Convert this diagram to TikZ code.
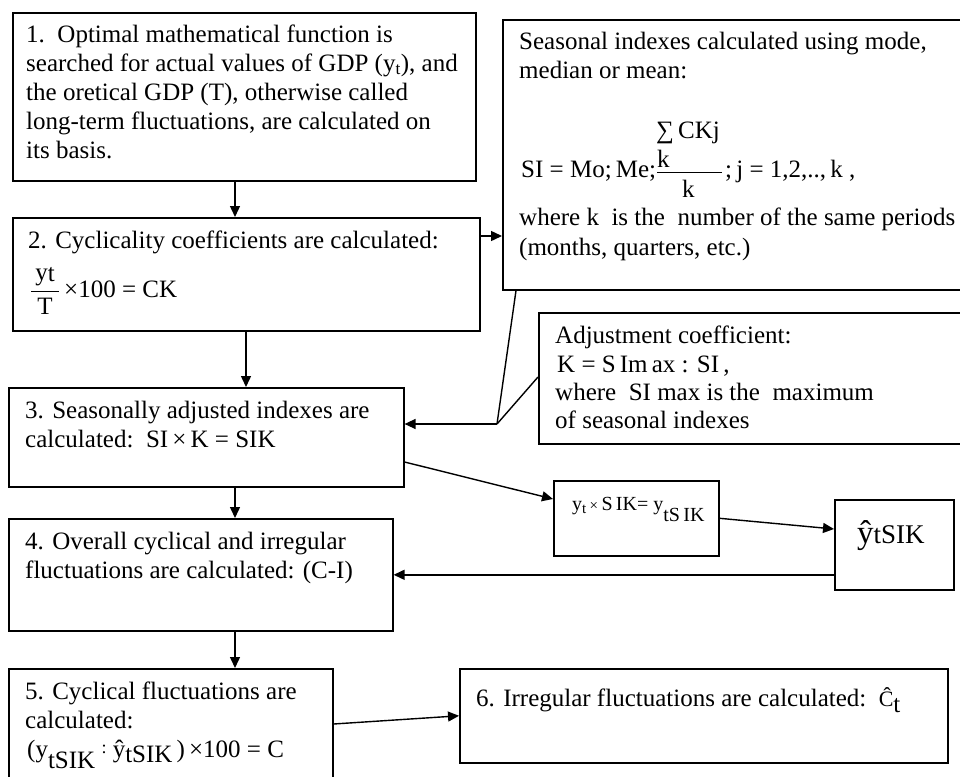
\documentclass[tikz,border=0pt]{standalone}
\usepackage{fontspec}
\setmainfont{Liberation Serif}
\usetikzlibrary{arrows.meta}
\newcommand\lowtxt[2]{\raisebox{-#1}{#2}}
\begin{document}
\begin{tikzpicture}[x=1pt,y=-1pt,
  every node/.style={font=\fontsize{25}{30}\selectfont},
  box/.style={draw, line width=1.6pt, anchor=north west, inner sep=0pt},
  txt/.style={anchor=base west, inner sep=0pt},
  conn/.style={line width=1.4pt},
  arr/.style={line width=1.4pt, -{Triangle[length=11pt,width=10pt]}}]
\fill[white] (0,0) rectangle (960,776);
\useasboundingbox (0,0) rectangle (960,776);
\clip (0,0) rectangle (960,776);

% boxes
\node[box, minimum width=463pt, minimum height=168pt] (b1) at (12,12) {};
\node[box, minimum width=467pt, minimum height=113pt] (b2) at (12,217) {};
\node[box, minimum width=395pt, minimum height=99pt] (b3) at (8,387) {};
\node[box, minimum width=384pt, minimum height=112pt] (b4) at (8,518) {};
\node[box, minimum width=324pt, minimum height=130pt] (b5) at (8,668) {};
\node[box, minimum width=488pt, minimum height=94pt] (b6) at (459,668) {};
\node[box, minimum width=165pt, minimum height=75pt] (b7) at (553,480) {};
\node[box, minimum width=119pt, minimum height=90pt] (b8) at (834,499) {};
\node[box, minimum width=470pt, minimum height=270pt] (bSI) at (502,19) {};
\node[box, minimum width=430pt, minimum height=131pt] (bAdj) at (538,312) {};

% box 1 text
\node[txt] (t1a) at (26,42) {1.\ \ Optimal mathematical function is};
\node[txt] (t1b) at (26,71) {searched for actual values of GDP (y\textsubscript{t}), and};
\node[txt] (t1c) at (26,100) {the oretical GDP (T), otherwise called};
\node[txt] (t1d) at (26,129) {long-term fluctuations, are calculated on};
\node[txt] (t1e) at (26,158) {its basis.};

% box 2 text
\node[txt] (t2a) at (28,248) {2. Cyclicality coefficients are calculated:};
\node[txt] (t2b) at (30,297) {$\displaystyle\frac{\hbox{\hspace{4pt}y\lowtxt{1.5pt}{t}\hspace{4pt}}}{\hbox{T}}$\,×100 = CK};

% box 3 text
\node[txt] (t3a) at (25,418) {3. Seasonally adjusted indexes are};
\node[txt] (t3b) at (25,447) {calculated:\ \ SI\,×\,K = SIK};

% box 4 text
\node[txt] (t4a) at (25,549) {4. Overall cyclical and irregular};
\node[txt] (t4b) at (25,578) {fluctuations are calculated: (C-I)};

% box 5 text
\node[txt] (t5a) at (25,699) {5. Cyclical fluctuations are};
\node[txt] (t5b) at (25,728) {calculated:};
\node[txt] (t5c) at (27,757) {(y\lowtxt{11pt}{tSIK}\ \raisebox{4pt}{\fontsize{18}{18}\selectfont:}\ ŷ\lowtxt{5pt}{tSIK}\,)\,×100 = C};

% box 6 text
\node[txt] (t6a) at (476,706) {6. Irregular fluctuations are calculated:\ \ {\fontsize{22}{22}\selectfont Ĉ}\lowtxt{6pt}{t}};

% box 7 text
\node[txt] (t7a) at (572,510) {\fontsize{20}{24}\selectfont y\lowtxt{3pt}{\fontsize{15}{15}\selectfont t}\,{\fontsize{15}{15}\selectfont×}\,S\,IK= y\lowtxt{11pt}{tS\,IK}};

% box 8 text
\node[txt] (t8a) at (857,543) {{\fontsize{33}{33}\selectfont ŷ}{\fontsize{27}{27}\selectfont tSIK}};

% seasonal index box text
\node[txt] (s1) at (519,50) {Seasonal indexes calculated using mode,};
\node[txt] (s2) at (519,78) {median or mean:};
\node[txt] (s3) at (521,177) {SI = Mo;\,Me;};
\node[txt] (s4) at (656,138) {∑\,CKj};
\node[txt] (s5) at (657,167) {k};
\node[txt] (s6) at (682,197) {k};
\draw[line width=1pt] (s5.base west) ++(0,5) -- ++(65,0);
\node[txt] (s7) at (725,177) {;\,j = 1,2,..,\,k ,};
\node[txt] (s8) at (519,225) {where k\ \ is the\ \ number of the same periods};
\node[txt] (s9) at (519,255) {(months, quarters, etc.)};

% adjustment box text
\node[txt] (a1) at (555,343) {Adjustment coefficient:};
\node[txt] (a2) at (557,372) {K = S\,Im\,ax : SI\,,};
\node[txt] (a3) at (555,400) {where\ \ SI max is the\ \ maximum};
\node[txt] (a4) at (555,428) {of seasonal indexes};

% helper coordinates
\coordinate (xa) at (235,0);
\coordinate (xb) at (246,0);
\coordinate (J) at (497,424);

% connectors
\draw[arr] (b1.south -| xa) -- (b2.north -| xa);
\draw[arr] (b2.south -| xb) -- (b3.north -| xb);
\draw[arr] (b3.south -| xa) -- (b4.north -| xa);
\draw[arr] (b4.south -| xa) -- (b5.north -| xa);
\draw[arr] (b2.east |- 0,236) -- (bSI.west |- 0,236);
\draw[conn] (bSI.south -| 516,0) -- (J);
\draw[conn] (bAdj.west |- 0,377) -- (J);
\draw[arr] (J) -- (b3.east |- J);
\draw[arr] (b3.east |- 0,462) -- (b7.west |- 0,499);
\draw[arr] (b7.east) -- (b8.west |- 0,529);
\draw[arr] (b8.west |- b4.east) -- (b4.east);
\draw[arr] (b5.east |- 0,724) -- (b6.west);
\end{tikzpicture}
\end{document}
